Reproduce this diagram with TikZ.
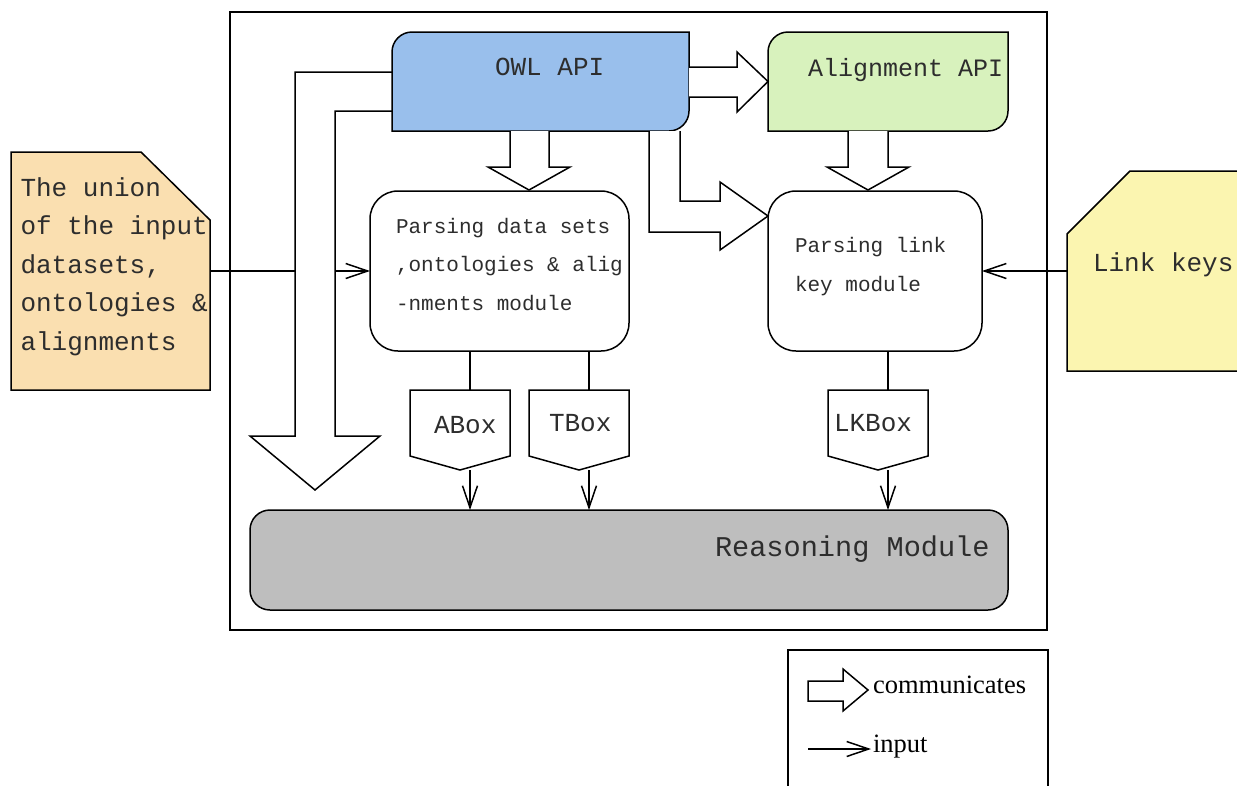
\documentclass[tikz,border=0pt]{standalone}
\usepackage{fontspec}
\setmainfont{Liberation Serif}
\newfontfamily\monof{Liberation Mono}
\usetikzlibrary{arrows.meta}
\definecolor{owlblue}{RGB}{153,191,236}
\definecolor{aligngreen}{RGB}{216,242,189}
\definecolor{noteorange}{RGB}{250,223,176}
\definecolor{noteyellow}{RGB}{251,245,176}
\definecolor{reasongray}{RGB}{190,190,190}
\definecolor{txt}{RGB}{45,45,45}
\begin{document}
\begin{tikzpicture}[x=1pt,y=-1pt,line width=1.5pt,line join=miter,
  inarrow/.style={-{Straight Barb[length=22pt,width=15pt]}},
  comm/.style={draw,fill=white},
  area/.style 2 args={inner sep=0pt,outer sep=0pt,minimum width=#1,minimum height=#2},
  lbl/.style={anchor=base west,inner sep=0pt,outer sep=0pt,text=txt},
  big/.style={lbl,font=\monof\fontsize{26}{30}\selectfont},
  small/.style={lbl,font=\monof\fontsize{21}{25}\selectfont},
  legendtxt/.style={lbl,text=black,font=\fontsize{26.5}{30}\selectfont}]
\useasboundingbox (0,0) rectangle (1237,785);
\clip (0,0) rectangle (1237,785);

% outer frame
\draw (230,12) rectangle (1047,630);

% invisible anchor nodes
\node[area={297pt}{99pt}] (owl) at (540.5,81.5) {};
\node[area={240pt}{99pt}] (align) at (888,81.5) {};
\node[area={199pt}{238pt}] (union) at (110.5,271) {};
\node[area={173pt}{200pt}] (lk) at (1153.5,271) {};

% input note (left)
\draw[fill=noteorange] (union.south west) -- (union.north west) -- ([xshift=-69pt]union.north east) -- ([yshift=-68pt]union.north east) -- (union.south east) -- cycle;
\foreach \t [count=\i from 0] in {The union,of the input,{datasets,},ontologies \&,alignments}
  \node[big] (u\i) at (20.5,196+38.5*\i) {\t};

% parsing boxes
\node[area={259pt}{160pt},draw,rounded corners=28pt,fill=white] (pds) at (499.5,271) {};
\node[area={214pt}{160pt},draw,rounded corners=28pt,fill=white] (pl) at (875,271) {};

% input from the union note
\draw[inarrow] (union.east) -- (pds.west);

% big communicate arrow on the left
\draw[comm] ([yshift=9.5pt]owl.west) -- (295,72) -- (295,436) -- (250,436) -- (315,490) -- (380,436) -- (335,436) -- (335,111) -- ([yshift=-29.5pt]owl.west);

% OWL API box
\draw[fill=owlblue] (owl.south west) -- ([yshift=-20pt]owl.north west) .. controls ([yshift=-9pt]owl.north west) and ([xshift=9pt]owl.north west) .. ([xshift=20pt]owl.north west) -- (owl.north east) -- ([yshift=20pt]owl.south east) .. controls ([yshift=9pt]owl.south east) and ([xshift=-9pt]owl.south east) .. ([xshift=-20pt]owl.south east) -- cycle;
\node[big] (owltxt) at (495,75) {OWL API};

% Alignment API box
\draw[fill=aligngreen] (align.south west) -- ([yshift=-20pt]align.north west) .. controls ([yshift=-9pt]align.north west) and ([xshift=9pt]align.north west) .. ([xshift=20pt]align.north west) -- (align.north east) -- ([yshift=20pt]align.south east) .. controls ([yshift=9pt]align.south east) and ([xshift=-9pt]align.south east) .. ([xshift=-20pt]align.south east) -- cycle;
\node[lbl,font=\monof\fontsize{25}{30}\selectfont] (aligntxt) at (808,76) {Alignment API};

% communicate arrows
\draw[comm] (owl.east |- 0,67) -- (737,67) -- (737,52) -- (align.west) -- (737,112) -- (737,97) -- (owl.east |- 0,97);
\draw[comm] (owl.south -| 510,0) -- (510,167) -- (488,167) -- (529,190) -- (570,167) -- (549,167) -- (owl.south -| 549,0);
\draw[comm] (align.south -| 848,0) -- (848,167) -- (827,167) -- (868,190) -- (909,167) -- (888,167) -- (align.south -| 888,0);
\draw[comm] (owl.south -| 649,0) -- (649,232) -- (720,232) -- (720,250) -- (768,216) -- (720,182) -- (720,201) -- (680,201) -- (owl.south -| 680,0);

% parsing texts
\node[small] (p1) at (396,233) {Parsing data sets};
\node[small] (p2) at (396,271.5) {,ontologies \& alig};
\node[small] (p3) at (396,310) {-nments module};
\node[small] (k1) at (795,252.5) {Parsing link};
\node[small] (k2) at (795,291) {key module};

% link keys note
\draw[fill=noteyellow] ([yshift=-63pt]lk.north west) -- ([xshift=63pt]lk.north west) -- (lk.north east) -- (lk.south east) -- (lk.south west) -- cycle;
\node[big] (lktxt) at (1093,271.5) {Link keys};
\draw[inarrow] (lk.west) -- (pl.east);

% reasoning module
\node[area={758pt}{100pt},draw,rounded corners=20pt,fill=reasongray] (reason) at (629,560) {};
\node[lbl,font=\monof\fontsize{28.6}{32}\selectfont] (rtxt) at (715,556) {Reasoning Module};

% boxes
\node[area={100pt}{80pt}] (abox) at (460,430) {};
\node[area={100pt}{80pt}] (tbox) at (579,430) {};
\node[area={100pt}{80pt}] (lkbox) at (878,430) {};
\foreach \b in {abox,tbox,lkbox}{
  \draw[fill=white] (\b.north west) -- (\b.north east) -- ([yshift=14pt]\b.south east) -- (\b.south) -- ([yshift=14pt]\b.south west) -- cycle;
  \draw ([xshift=10pt]\b.north) -- ([xshift=10pt]\b.north |- pds.south);
  \draw[inarrow] ([xshift=10pt]\b.south) -- ([xshift=10pt]\b.south |- reason.north);
}
\node[big] (atxt) at (434,433.5) {ABox};
\node[big] (ttxt) at (549,431.5) {TBox};
\node[big] (lkbtxt) at (834,431.5) {LKBox};

% legend
\draw (788,790) -- (788,650) -- (1048,650) -- (1048,790);
\draw[comm] (808,681) -- (843,681) -- (843,669) -- (868,690) -- (843,711) -- (843,701) -- (808,701) -- cycle;
\node[legendtxt] (lcomm) at (873,693) {communicates};
\coordinate (lin0) at (808,749);
\coordinate (lin1) at (871,749);
\draw[inarrow] (lin0) -- (lin1);
\node[legendtxt] (linput) at (873,752) {input};
\end{tikzpicture}
\end{document}
